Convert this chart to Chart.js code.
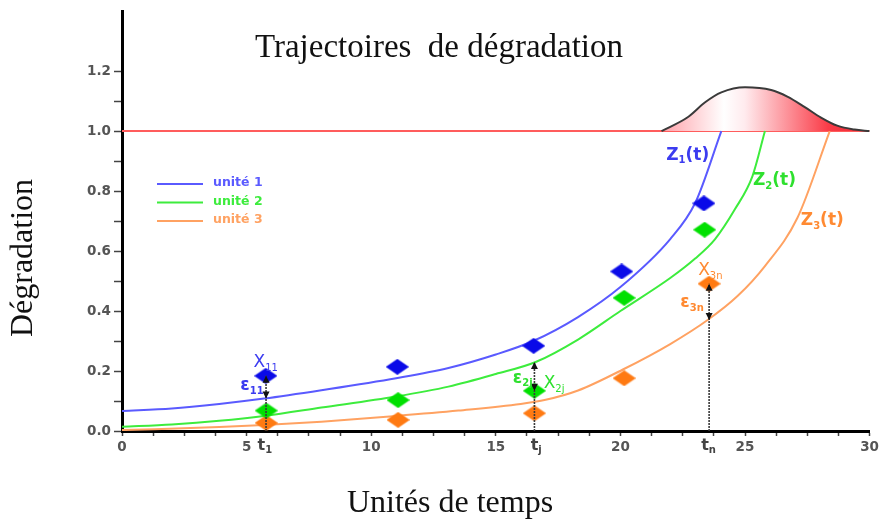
<!DOCTYPE html>
<html>
<head>
<meta charset="utf-8">
<script src="https://cdn.jsdelivr.net/npm/chart.js@4.4.0/dist/chart.umd.min.js"></script>
<style>
  html, body { margin: 0; padding: 0; background: #fff; }
  #wrap { width: 882px; height: 520px; }
</style>
</head>
<body>
<div id="wrap"><canvas id="chart" width="882" height="520"></canvas></div>
<script>
// trajectoires Z1, Z2, Z3
const tZ1 = [0, 2, 3.9, 5.7, 8, 11, 13.1, 15, 16.5, 18.3, 20, 22, 23, 24.05];
const yZ1 = [0.067, 0.075, 0.09, 0.108, 0.136, 0.176, 0.21, 0.255, 0.30, 0.38, 0.48, 0.64, 0.76, 1.0];
const tZ2 = [0, 2, 3.9, 5.7, 8, 11, 13.1, 15, 16.6, 18.3, 20, 22, 23, 23.8, 24.6, 25.3, 25.8];
const yZ2 = [0.014, 0.022, 0.034, 0.05, 0.078, 0.115, 0.148, 0.19, 0.23, 0.305, 0.40, 0.51, 0.575, 0.64, 0.74, 0.85, 1.0];
const tZ3 = [0, 3.9, 5.7, 8, 11, 13.5, 16, 17, 18.3, 20.1, 22, 23.5, 24.7, 25.8, 27.1, 28.4];
const yZ3 = [0.003, 0.013, 0.02, 0.031, 0.05, 0.068, 0.09, 0.104, 0.135, 0.205, 0.29, 0.37, 0.45, 0.55, 0.71, 1.0];

// observations (losanges)
const tObs1 = [5.77, 11.05, 16.52, 20.05, 23.35];
const yObs1 = [0.184, 0.214, 0.284, 0.532, 0.759];
const tObs2 = [5.79, 11.08, 16.55, 20.15, 23.38];
const yObs2 = [0.068, 0.103, 0.134, 0.444, 0.671];
const tObs3 = [5.79, 11.08, 16.55, 20.15, 23.56];
const yObs3 = [0.027, 0.037, 0.059, 0.176, 0.491];

// seuil et densité
const tSeuil = [0, 30];
const ySeuil = [1.0, 1.0];
const tBell = [21.65, 22.7, 23.4, 24.05, 25.0, 26.05, 26.7, 27.4, 28.05, 28.7, 29.4, 30];
const yBell = [1.0, 1.046, 1.096, 1.129, 1.146, 1.137, 1.115, 1.08, 1.045, 1.018, 1.005, 1.0];

// flèches epsilon : instant, bas, haut
const tArrow = [5.78, 16.55, 23.56];
const yArrowLow = [0.108, 0.134, 0.37];
const yArrowHigh = [0.184, 0.23, 0.491];

// axes
const xTickValues = [0, 1.25, 2.5, 3.75, 5, 6.25, 7.5, 8.75, 10, 11.25, 12.5, 13.75, 15, 16.25, 17.5, 18.75, 20, 21.25, 22.5, 23.75, 25, 26.25, 27.5, 28.75, 30];
const xTickLabels = [0, 5, 10, 15, 20, 25, 30];
const yTickValues = [0, 0.1, 0.2, 0.3, 0.4, 0.5, 0.6, 0.7, 0.8, 0.9, 1.0, 1.1, 1.2];
const yTickLabels = [0, 0.2, 0.4, 0.6, 0.8, 1.0, 1.2];

const legendNames = ['unité 1', 'unité 2', 'unité 3'];

const BLUE_L = '#5a5aff', GREEN_L = '#3dec3d', ORANGE_L = '#ffa262';
const BLUE_P = '#0a0ae8', GREEN_P = '#00e000', ORANGE_P = '#ff7a12';
const BLUE_T = '#3c3cf0', GREEN_T = '#2ee02e', ORANGE_T = '#ff8a32';

const pts = (ts, ys) => ts.map((t, i) => ({ x: t, y: ys[i] }));

function diamond(color) {
  const c = document.createElement('canvas');
  c.width = 23; c.height = 16;
  const g = c.getContext('2d');
  g.fillStyle = color;
  g.strokeStyle = color;
  g.globalAlpha = 0.5;
  g.lineWidth = 1.5;
  g.beginPath();
  g.moveTo(11.5, 0.5); g.lineTo(22.5, 8); g.lineTo(11.5, 15.5); g.lineTo(0.5, 8); g.closePath();
  g.stroke();
  g.globalAlpha = 1;
  g.fill();
  return c;
}

function curve(ts, ys, color) {
  return {
    type: 'line', data: pts(ts, ys), borderColor: color, borderWidth: 2,
    pointRadius: 0, cubicInterpolationMode: 'monotone', fill: false, order: 5
  };
}
function obs(ts, ys, color) {
  return {
    type: 'scatter', data: pts(ts, ys), pointStyle: diamond(color),
    pointRadius: 8, showLine: false, order: 1, clip: false
  };
}

function subText(ctx, x, y, main, sub, tail, size, weight) {
  ctx.font = weight + ' ' + size + 'px "DejaVu Sans"';
  ctx.fillText(main, x, y);
  let w = ctx.measureText(main).width;
  ctx.font = weight + ' ' + Math.round(size * 0.6) + 'px "DejaVu Sans"';
  ctx.fillText(sub, x + w, y + size * 0.2);
  w += ctx.measureText(sub).width;
  if (tail) {
    ctx.font = weight + ' ' + size + 'px "DejaVu Sans"';
    ctx.fillText(tail, x + w, y);
  }
}

// libellés placés en coordonnées des données
const labels = [
  { t: 5.28, y: 0.213, m: 'X', s: '11', c: BLUE_T, z: 17, w: 'normal' },
  { t: 4.75, y: 0.136, m: 'ε', s: '11', c: BLUE_T, z: 17, w: 'bold' },
  { t: 15.68, y: 0.16, m: 'ε', s: '2j', c: GREEN_T, z: 17, w: 'bold' },
  { t: 16.92, y: 0.143, m: 'X', s: '2j', c: GREEN_T, z: 17, w: 'normal' },
  { t: 23.12, y: 0.519, m: 'X', s: '3n', c: ORANGE_T, z: 17, w: 'normal' },
  { t: 22.4, y: 0.413, m: 'ε', s: '3n', c: ORANGE_T, z: 17, w: 'bold' },
  { t: 21.84, y: 0.905, m: 'Z', s: '1', tail: '(t)', c: BLUE_T, z: 17, w: 'bold' },
  { t: 25.32, y: 0.819, m: 'Z', s: '2', tail: '(t)', c: GREEN_T, z: 17, w: 'bold' },
  { t: 27.24, y: 0.686, m: 'Z', s: '3', tail: '(t)', c: ORANGE_T, z: 17, w: 'bold' },
  { t: 5.44, y: -0.063, m: 't', s: '1', c: '#444', z: 16, w: 'bold' },
  { t: 16.4, y: -0.063, m: 't', s: 'j', c: '#444', z: 16, w: 'bold' },
  { t: 23.24, y: -0.063, m: 't', s: 'n', c: '#444', z: 16, w: 'bold' }
];

const annotations = {
  id: 'annotations',
  afterDatasetsDraw(chart) {
    const { ctx, scales: { x, y } } = chart;
    ctx.save();
    // flèches
    for (let i = 0; i < tArrow.length; i++) {
      const px = x.getPixelForValue(tArrow[i]);
      const p0 = y.getPixelForValue(0);
      const pl = y.getPixelForValue(yArrowLow[i]);
      const ph = y.getPixelForValue(yArrowHigh[i]);
      ctx.strokeStyle = '#3a3a3a';
      ctx.lineWidth = 1.6;
      ctx.setLineDash([2, 1]);
      ctx.beginPath(); ctx.moveTo(px, p0); ctx.lineTo(px, ph); ctx.stroke();
      ctx.setLineDash([]);
      ctx.fillStyle = '#111';
      ctx.beginPath(); ctx.moveTo(px, ph); ctx.lineTo(px - 3.5, ph + 7); ctx.lineTo(px + 3.5, ph + 7); ctx.closePath(); ctx.fill();
      ctx.beginPath(); ctx.moveTo(px, pl); ctx.lineTo(px - 3.5, pl - 7); ctx.lineTo(px + 3.5, pl - 7); ctx.closePath(); ctx.fill();
    }
    // libellés
    ctx.textBaseline = 'alphabetic';
    ctx.textAlign = 'left';
    labels.forEach(l => {
      ctx.fillStyle = l.c;
      subText(ctx, x.getPixelForValue(l.t), y.getPixelForValue(l.y), l.m, l.s, l.tail, l.z, l.w);
    });
    // légende
    const legCols = [BLUE_L, GREEN_L, ORANGE_L];
    ctx.font = 'bold 12.5px "DejaVu Sans"';
    ctx.textBaseline = 'middle';
    legendNames.forEach((n, i) => {
      const ly = 184 + i * 18.5;
      ctx.strokeStyle = legCols[i];
      ctx.lineWidth = 2;
      ctx.beginPath(); ctx.moveTo(157, ly); ctx.lineTo(203, ly); ctx.stroke();
      ctx.fillStyle = legCols[i];
      ctx.fillText(n, 213, ly - 1);
    });
    // titres
    ctx.fillStyle = '#111';
    ctx.textAlign = 'center';
    ctx.textBaseline = 'alphabetic';
    ctx.font = '33px "Liberation Serif"';
    ctx.fillText('Trajectoires  de dégradation', 439, 57);
    ctx.font = '32px "Liberation Serif"';
    ctx.fillText('Unités de temps', 450, 512);
    ctx.save();
    ctx.translate(24, 258);
    ctx.rotate(-Math.PI / 2);
    ctx.textBaseline = 'middle';
    ctx.fillText('Dégradation', 0, 0);
    ctx.restore();
    ctx.restore();
  }
};

const ctx = document.getElementById('chart');
new Chart(ctx, {
  data: {
    datasets: [
      obs(tObs1, yObs1, BLUE_P),
      obs(tObs2, yObs2, GREEN_P),
      obs(tObs3, yObs3, ORANGE_P),
      curve(tZ1, yZ1, BLUE_L),
      curve(tZ2, yZ2, GREEN_L),
      curve(tZ3, yZ3, ORANGE_L),
      {
        type: 'line', data: pts(tBell, yBell), borderColor: '#3a3a3a', borderWidth: 2,
        pointRadius: 0, cubicInterpolationMode: 'monotone', order: 6,
        fill: { value: 1 },
        backgroundColor: (c) => {
          const area = c.chart.chartArea;
          if (!area) return 'rgba(255,0,0,0.3)';
          const xs = c.chart.scales.x;
          const x0 = xs.getPixelForValue(21.65), x1 = xs.getPixelForValue(30);
          const g = c.chart.ctx.createLinearGradient(x0, 0, x1, 0);
          g.addColorStop(0, 'rgba(255,160,168,1)');
          g.addColorStop(0.3, 'rgba(255,255,255,1)');
          g.addColorStop(0.4, 'rgba(255,235,238,1)');
          g.addColorStop(0.8, 'rgba(250,60,72,1)');
          g.addColorStop(1, 'rgba(235,40,50,1)');
          return g;
        }
      },
      {
        type: 'line', data: pts(tSeuil, ySeuil), borderColor: '#ff5c5c', borderWidth: 2,
        pointRadius: 0, fill: false, order: 7
      }
    ]
  },
  options: {
    responsive: false,
    animation: false,
    devicePixelRatio: 1,
    layout: { padding: { left: 0, right: 10, top: 10, bottom: 0 } },
    plugins: { legend: { display: false }, tooltip: { enabled: false } },
    scales: {
      x: {
        type: 'linear', min: 0, max: 30,
        afterBuildTicks: s => { s.ticks = xTickValues.map(v => ({ value: v })); },
        afterFit: s => { s.height = 89; },
        ticks: {
          autoSkip: false, maxRotation: 0, padding: 3,
          color: '#555', font: { family: 'DejaVu Sans', weight: 'bold', size: 13.5 },
          callback: v => xTickLabels.includes(v) ? String(v) : ''
        },
        grid: { drawOnChartArea: false, drawTicks: true, tickLength: 5, tickColor: '#444', tickWidth: 1.5 },
        border: { display: true, color: '#000', width: 3 }
      },
      y: {
        type: 'linear', min: 0, max: 1.4,
        afterBuildTicks: s => { s.ticks = yTickValues.map(v => ({ value: v })); },
        afterFit: s => { s.width = 122; },
        ticks: {
          autoSkip: false, padding: 3,
          color: '#555', font: { family: 'DejaVu Sans', weight: 'bold', size: 13.5 },
          callback: v => yTickLabels.some(l => Math.abs(l - v) < 1e-6) ? v.toFixed(1) : ''
        },
        grid: { drawOnChartArea: false, drawTicks: true, tickLength: 8, tickColor: '#444', tickWidth: 1.5 },
        border: { display: true, color: '#000', width: 3 }
      }
    }
  },
  plugins: [annotations]
});
</script>
</body>
</html>
